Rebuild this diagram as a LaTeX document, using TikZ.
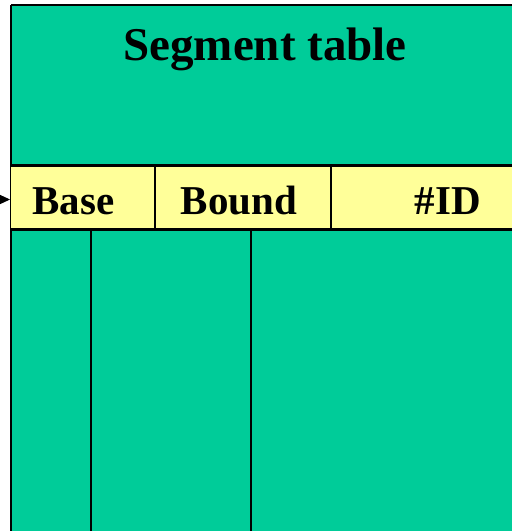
\documentclass[tikz,border=0pt]{standalone}
\usepackage{fontspec}
\setmainfont{Liberation Serif}
\usetikzlibrary{arrows.meta}
\definecolor{tgreen}{HTML}{00CC99}
\definecolor{tyellow}{HTML}{FFFF99}
\tikzset{
  cellline/.style={draw=black, line width=2.4pt},
  titletext/.style={font=\bfseries\fontsize{47}{56}\selectfont, anchor=base, inner sep=0pt},
  rowtext/.style={font=\bfseries\fontsize{41}{49}\selectfont, anchor=base, inner sep=0pt},
  pointer/.style={line width=1pt, -{Triangle[length=11pt,width=10pt]}}
}
\begin{document}
\begin{tikzpicture}[x=1pt,y=-1pt]
\useasboundingbox (0,0) rectangle (512,531);
\begin{scope}
\clip (0,0) rectangle (512,531);
\fill[tgreen] (11,5) rectangle (540,560);
\draw[cellline] (11,5) -- (540,5);
\draw[cellline] (11,5) -- (11,560);
\fill[tyellow] (11,165.5) rectangle (540,229.5);
\draw[cellline] (11,165.5) -- (540,165.5);
\draw[cellline] (11,229.5) -- (540,229.5);
\draw[cellline] (155,165.5) -- (155,229.5);
\draw[cellline] (331,165.5) -- (331,229.5);
\draw[cellline] (91,229.5) -- (91,560);
\draw[cellline] (251,229.5) -- (251,560);
\end{scope}
\node[titletext] (title) at (265,60) {Segment table};
\node[rowtext] (base) at (73.5,214) {Base};
\node[rowtext] (bound) at (239,214) {Bound};
\node[rowtext] (id) at (448,214) {\#ID};
\coordinate (src) at (0,199.5);
\coordinate (rowW) at (10,199.5);
\draw[pointer] (src) -- (rowW);
\end{tikzpicture}
\end{document}
